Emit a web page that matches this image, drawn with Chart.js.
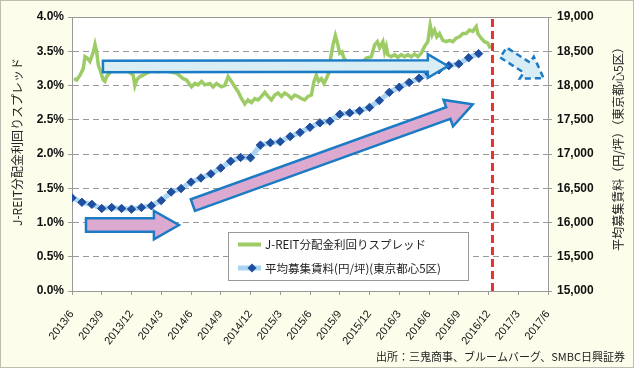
<!DOCTYPE html>
<html>
<head>
<meta charset="utf-8">
<script src="https://cdn.jsdelivr.net/npm/chart.js@4.4.0/dist/chart.umd.min.js"></script>
<style>
  html, body { margin: 0; padding: 0; background: #fdfdeb; }
  #wrap { width: 634px; height: 368px; }
</style>
</head>
<body>
<div id="wrap"><canvas id="spreadChart" width="634" height="368"></canvas></div>
<script>
// x axis is months since 2013/6, one tick per quarter
const xLabels = ['2013/6', '2013/9', '2013/12', '2014/3', '2014/6', '2014/9', '2014/12', '2015/3', '2015/6',
  '2015/9', '2015/12', '2016/3', '2016/6', '2016/9', '2016/12', '2017/3', '2017/6'];

// J-REIT spread (%)
const spreadMonths = [
  0.2, 0.47, 0.81, 1.14, 1.31, 1.54, 1.81, 1.98, 2.15, 2.32,
  2.49, 2.65, 2.89, 3.15, 3.32, 3.49, 4.03, 4.83, 5.54, 6.17,
  6.34, 6.52, 6.85, 7.18, 7.52, 8.06, 8.66, 9.26, 9.87, 10.54,
  11.21, 11.55, 12.05, 12.39, 12.72, 13.06, 13.39, 13.9, 14.23, 14.57,
  15.08, 15.41, 15.74, 16.08, 16.41, 16.75, 17.09, 17.42, 17.75, 18.1,
  18.43, 18.76, 19.1, 19.44, 19.77, 20.11, 20.44, 20.78, 21.12, 21.45,
  21.78, 22.12, 22.46, 22.79, 23.13, 23.46, 23.8, 24.14, 24.4, 24.64,
  24.87, 25.15, 25.41, 25.65, 25.88, 26.08, 26.31, 26.56, 26.82, 26.99,
  27.22, 27.42, 28.0, 28.6, 29.2, 29.68, 30.18, 30.51, 30.79, 31.02,
  31.35, 31.52, 31.69, 31.85, 32.19, 32.53, 32.86, 33.2, 33.53, 33.87,
  34.21, 34.54, 34.87, 35.22, 35.55, 35.88, 36.12, 36.32, 36.56, 36.79,
  37.06, 37.39, 37.73, 38.07, 38.4, 38.74, 39.07, 39.41, 39.75, 40.08,
  40.41, 40.76, 40.92, 41.26, 41.59, 41.93, 42.2
];
const spreadValues = [
  3.10, 3.08, 3.15, 3.25, 3.42, 3.40, 3.35, 3.42, 3.49, 3.60,
  3.49, 3.30, 3.20, 3.08, 3.06, 3.13, 3.22, 3.25, 3.22, 3.15,
  3.00, 3.08, 3.13, 3.15, 3.18, 3.22, 3.20, 3.22, 3.20, 3.18,
  3.10, 3.08, 2.98, 3.03, 3.01, 3.06, 3.01, 3.03, 2.98, 3.03,
  2.98, 3.00, 3.13, 3.06, 2.98, 2.91, 2.81, 2.73, 2.79, 2.75,
  2.81, 2.79, 2.84, 2.90, 2.84, 2.79, 2.86, 2.89, 2.84, 2.89,
  2.86, 2.81, 2.86, 2.84, 2.81, 2.79, 2.84, 2.86, 3.06, 3.15,
  3.06, 3.10, 3.03, 3.10, 3.18, 3.40, 3.59, 3.73, 3.59, 3.47,
  3.49, 3.40, 3.30, 3.28, 3.32, 3.40, 3.42, 3.59, 3.64, 3.55,
  3.64, 3.49, 3.57, 3.45, 3.42, 3.45, 3.41, 3.45, 3.42, 3.45,
  3.42, 3.46, 3.42, 3.47, 3.57, 3.64, 3.88, 3.74, 3.81, 3.71,
  3.76, 3.66, 3.64, 3.66, 3.64, 3.69, 3.71, 3.76, 3.76, 3.81,
  3.79, 3.86, 3.76, 3.69, 3.64, 3.62, 3.54
];

// monthly average asking rent (yen/tsubo), 2013/6 .. 2016/11
const rentValues = [
  16360, 16295, 16265, 16205, 16220, 16205, 16195, 16220, 16245, 16320,
  16445, 16495, 16590, 16650, 16710, 16795, 16895, 16950, 16945, 17130,
  17165, 17180, 17255, 17315, 17390, 17455, 17480, 17580, 17600, 17630,
  17680, 17780, 17900, 17975, 18045, 18105, 18170, 18230, 18290, 18315,
  18405, 18465
];

const spreadLabel = 'J-REIT分配金利回りスプレッド';
const rentLabel = '平均募集賃料(円/坪)(東京都心5区)';
const rentAxisTitle = '平均募集賃料（円/坪）（東京都心5区）';
const sourceNote = '出所：三鬼商事、ブルームバーグ、SMBC日興証券';

// annotation arrows, in data units (month, %)
const arrowFrom = [[3.12, 3.277], [1.41, 0.963], [12.19, 1.255], [43.5, 3.482]];
const arrowTo = [[37.9, 3.285], [10.78, 0.963], [40.41, 2.726], [47.56, 3.105]];
const cutoffMonth = 42.4;

const JP_FONT = '"Noto Sans CJK JP", "Noto Sans", sans-serif';
const NUM_FONT = '"Liberation Sans", Arial, sans-serif';
const GREEN = '#9dcc66';
const BLUE = '#1f4f9f';
const LIGHT_BLUE = '#a9d4f3';
const EDGE_BLUE = '#1b7bc4';

function drawArrow(ctx, x0, y0, x1, y1, body, head, headLen, fill, dashed) {
  const len = Math.hypot(x1 - x0, y1 - y0);
  const ux = (x1 - x0) / len, uy = (y1 - y0) / len;
  const px = -uy, py = ux;
  const bx = x1 - ux * headLen, by = y1 - uy * headLen;
  ctx.save();
  ctx.beginPath();
  ctx.moveTo(x0 + px * body, y0 + py * body);
  ctx.lineTo(bx + px * body, by + py * body);
  ctx.lineTo(bx + px * head, by + py * head);
  ctx.lineTo(x1, y1);
  ctx.lineTo(bx - px * head, by - py * head);
  ctx.lineTo(bx - px * body, by - py * body);
  ctx.lineTo(x0 - px * body, y0 - py * body);
  ctx.closePath();
  ctx.fillStyle = fill;
  ctx.fill();
  ctx.lineWidth = 2.5;
  ctx.lineJoin = 'miter';
  ctx.strokeStyle = EDGE_BLUE;
  if (dashed) ctx.setLineDash([6, 4]);
  ctx.stroke();
  ctx.restore();
}

const decorPlugin = {
  id: 'decor',
  beforeDraw(chart) {
    const { ctx, chartArea: a } = chart;
    ctx.save();
    ctx.fillStyle = '#fdfdeb';
    ctx.fillRect(0, 0, chart.width, chart.height);
    ctx.fillStyle = '#ffffff';
    ctx.fillRect(a.left, a.top, a.right - a.left, a.bottom - a.top);
    ctx.strokeStyle = '#bdbdb0';
    ctx.lineWidth = 1;
    ctx.strokeRect(0.5, 0.5, chart.width - 1, chart.height - 1);
    ctx.restore();
  },
  afterDatasetsDraw(chart) {
    const { ctx, chartArea: a, scales } = chart;
    const sx = scales.x, sy = scales.y;

    // top frame line
    ctx.save();
    ctx.strokeStyle = '#999';
    ctx.lineWidth = 1;
    ctx.beginPath();
    ctx.moveTo(a.left, Math.round(a.top) + 0.5);
    ctx.lineTo(a.right, Math.round(a.top) + 0.5);
    ctx.stroke();
    ctx.restore();

    // arrows
    const styles = [
      { body: 5.8, head: 11.8, len: 20, fill: '#d8edf4', dashed: false },
      { body: 6.7, head: 14.2, len: 25, fill: '#dcaad0', dashed: false },
      { body: 6.2, head: 14, len: 26, fill: '#dcaad0', dashed: false },
      { body: 5.9, head: 13, len: 20, fill: '#d8edf4', dashed: true }
    ];
    arrowFrom.forEach((f, i) => {
      const t = arrowTo[i], s = styles[i];
      drawArrow(ctx, sx.getPixelForValue(f[0]), sy.getPixelForValue(f[1]),
        sx.getPixelForValue(t[0]), sy.getPixelForValue(t[1]), s.body, s.head, s.len, s.fill, s.dashed);
    });

    // red cut-off line
    const rx = sx.getPixelForValue(cutoffMonth);
    ctx.save();
    ctx.strokeStyle = '#e5322d';
    ctx.lineWidth = 3;
    ctx.setLineDash([8, 4]);
    ctx.beginPath();
    ctx.moveTo(rx, a.top + 2);
    ctx.lineTo(rx, a.bottom);
    ctx.stroke();
    ctx.restore();

    // legend box
    const lx = a.left + 156, ly = a.top + 215, lw = 240, lh = 48;
    ctx.save();
    ctx.fillStyle = '#fff';
    ctx.fillRect(lx, ly, lw, lh);
    ctx.strokeStyle = '#999';
    ctx.lineWidth = 1;
    ctx.strokeRect(lx + 0.5, ly + 0.5, lw, lh);
    const r1 = ly + 12.5, r2 = ly + 36;
    ctx.lineWidth = 4;
    ctx.strokeStyle = GREEN;
    ctx.beginPath(); ctx.moveTo(lx + 10, r1); ctx.lineTo(lx + 33, r1); ctx.stroke();
    ctx.lineWidth = 5;
    ctx.strokeStyle = LIGHT_BLUE;
    ctx.beginPath(); ctx.moveTo(lx + 10, r2); ctx.lineTo(lx + 33, r2); ctx.stroke();
    const dx = lx + 24, d = 4.5;
    ctx.fillStyle = BLUE;
    ctx.beginPath();
    ctx.moveTo(dx - d, r2); ctx.lineTo(dx, r2 - d); ctx.lineTo(dx + d, r2); ctx.lineTo(dx, r2 + d);
    ctx.closePath(); ctx.fill();
    ctx.fillStyle = '#222';
    ctx.font = '11.5px ' + JP_FONT;
    ctx.textBaseline = 'middle';
    ctx.fillText(spreadLabel, lx + 37, r1 + 0.5);
    ctx.fillText(rentLabel, lx + 37, r2 + 0.5);
    ctx.restore();
  },
  afterDraw(chart) {
    const { ctx, chartArea: a } = chart;
    ctx.save();
    ctx.fillStyle = '#222';
    ctx.font = '12px ' + JP_FONT;
    ctx.textAlign = 'center';
    ctx.textBaseline = 'middle';
    ctx.translate(17, a.top + 125);
    ctx.rotate(-Math.PI / 2);
    ctx.fillText(spreadLabel, 0, 0);
    ctx.restore();

    ctx.save();
    ctx.fillStyle = '#222';
    ctx.font = '12px ' + JP_FONT;
    ctx.textAlign = 'center';
    ctx.textBaseline = 'middle';
    ctx.translate(618, a.top + 129);
    ctx.rotate(-Math.PI / 2);
    ctx.fillText(rentAxisTitle, 0, 0);
    ctx.restore();

    ctx.save();
    ctx.fillStyle = '#222';
    ctx.font = '11px ' + JP_FONT;
    ctx.textAlign = 'right';
    ctx.textBaseline = 'middle';
    ctx.fillText(sourceNote, chart.width - 9, chart.height - 11);
    ctx.restore();
  }
};

const ctx = document.getElementById('spreadChart').getContext('2d');
new Chart(ctx, {
  type: 'line',
  data: {
    datasets: [
      {
        label: spreadLabel,
        data: spreadMonths.map((m, i) => ({ x: m, y: spreadValues[i] })),
        yAxisID: 'y',
        borderColor: GREEN,
        borderWidth: 3.5,
        pointRadius: 0,
        tension: 0,
        order: 2
      },
      {
        label: rentLabel,
        data: rentValues.map((v, i) => ({ x: i, y: v })),
        yAxisID: 'y1',
        borderColor: LIGHT_BLUE,
        borderWidth: 5,
        pointStyle: 'rectRot',
        pointRadius: 4.2,
        pointBackgroundColor: BLUE,
        pointBorderColor: BLUE,
        pointBorderWidth: 1,
        tension: 0,
        order: 1
      }
    ]
  },
  options: {
    responsive: false,
    animation: false,
    events: [],
    layout: { padding: { top: 17, right: 0, left: 0, bottom: 0 } },
    plugins: { legend: { display: false }, tooltip: { enabled: false } },
    scales: {
      x: {
        type: 'linear',
        min: 0,
        max: 48,
        afterFit: s => { s.height = 77; },
        afterBuildTicks: s => { s.ticks = xLabels.map((_, i) => ({ value: i * 3 })); },
        grid: { drawOnChartArea: false, tickLength: 4, color: '#999', tickColor: '#999' },
        border: { color: '#999' },
        ticks: {
          autoSkip: false,
          minRotation: 52,
          maxRotation: 52,
          padding: 13,
          color: '#111',
          font: { family: NUM_FONT, size: 11 },
          callback: v => xLabels[Math.round(v / 3)]
        }
      },
      y: {
        position: 'left',
        min: 0,
        max: 4,
        afterFit: s => { s.width = 72; },
        grid: {
          color: c => (c.tick && (c.tick.value === 0 || c.tick.value === 4)) ? 'rgba(0,0,0,0)' : '#999',
          tickColor: '#999',
          tickLength: 4
        },
        border: { color: '#999', dash: [6, 4] },
        ticks: {
          stepSize: 0.5,
          padding: 4,
          color: '#111',
          font: { family: NUM_FONT, size: 12, weight: 'bold' },
          callback: v => v.toFixed(1) + '%'
        }
      },
      y1: {
        position: 'right',
        min: 15000,
        max: 19000,
        afterFit: s => { s.width = 86; },
        grid: { drawOnChartArea: false, tickColor: '#999', tickLength: 4 },
        border: { color: '#999' },
        ticks: {
          stepSize: 500,
          padding: 5,
          color: '#111',
          font: { family: NUM_FONT, size: 12, weight: 'bold' },
          callback: v => v.toLocaleString('en-US')
        }
      }
    }
  },
  plugins: [decorPlugin]
});
</script>
</body>
</html>
